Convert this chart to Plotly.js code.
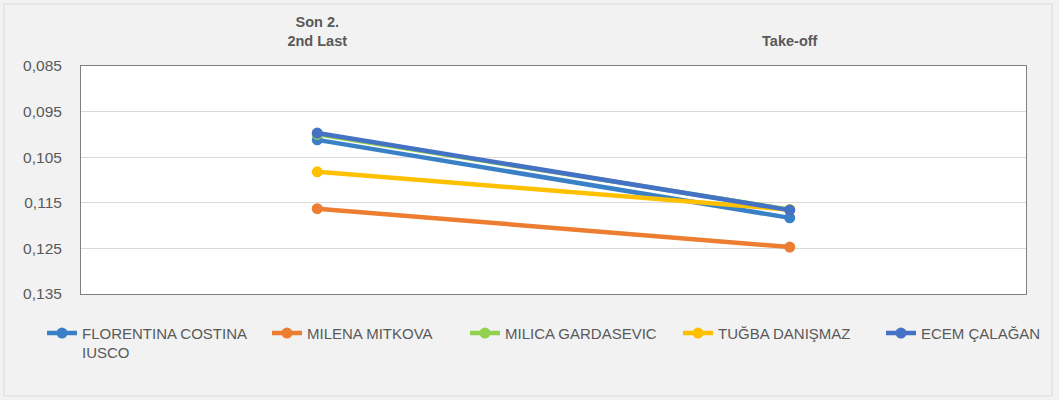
<!DOCTYPE html>
<html>
<head>
<meta charset="utf-8">
<script src="https://cdn.plot.ly/plotly-3.0.1.min.js"></script>
<style>html,body{margin:0;padding:0;background:#F2F2F2;}#chart{width:1059px;height:400px;}</style>
</head>
<body>
<div id="chart"></div>
<script>
const categories = ["Son 2.<br>2nd Last", "Take-off"];
const seriesNames = ["FLORENTINA COSTINA<br>IUSCO", "MILENA MITKOVA", "MILICA GARDASEVIC", "TUĞBA DANIŞMAZ", "ECEM ÇALAĞAN"];
const florentina = [0.1012, 0.1183];
const milena = [0.1163, 0.1247];
const milica = [0.1000, 0.1165];
const tugba = [0.1082, 0.1165];
const ecem = [0.0997, 0.1166];
const colors = ["#3A80C6", "#ED7D31", "#92D050", "#FFC000", "#4472C4"];

// legend entry left edges (px) for each series
const legendLeftPx = [42, 267, 465, 678, 881];

const allValues = [florentina, milena, milica, tugba, ecem];
const legendIds = ["legend", "legend2", "legend3", "legend4", "legend5"];
const traces = allValues.map((vals, i) => ({
  type: "scatter",
  mode: "lines+markers",
  name: seriesNames[i],
  legend: legendIds[i],
  x: categories,
  y: vals,
  line: {color: colors[i], width: 4.5},
  marker: {color: colors[i], size: 11}
}));

const marginL = 81, plotW = 1059 - 81 - 33;

const layout = {
  width: 1059, height: 400,
  paper_bgcolor: "#F2F2F2",
  plot_bgcolor: "#FFFFFF",
  separators: ",.",
  font: {family: "Liberation Sans, Arial, sans-serif", color: "#595959", size: 15},
  margin: {l: 81, r: 33, t: 66, b: 106},
  showlegend: true,
  xaxis: {
    type: "category", side: "top", range: [-0.5, 1.5],
    showgrid: false, zeroline: false,
    showline: true, mirror: true, linecolor: "#7F7F7F", linewidth: 1,
    ticks: "", tickfont: {size: 14.5, color: "#595959", weight: "bold"},
    ticklabelstandoff: 13
  },
  yaxis: {
    range: [0.135, 0.085], tick0: 0.085, dtick: 0.01, tickformat: ".3f",
    showgrid: true, gridcolor: "#D9D9D9", gridwidth: 1, zeroline: false,
    showline: true, mirror: true, linecolor: "#7F7F7F", linewidth: 1,
    ticks: "", tickfont: {size: 15.5, color: "#595959"},
    ticklabelstandoff: 15
  },
  shapes: [{
    type: "rect", xref: "paper", yref: "paper",
    x0: -0.0815, x1: 1.0275, y0: -0.447, y1: 1.272,
    line: {color: "#D9D9D9", width: 1}, fillcolor: "rgba(0,0,0,0)", layer: "below"
  }]
};

legendIds.forEach((id, i) => {
  layout[id] = {
    orientation: "h",
    x: (legendLeftPx[i] - marginL) / plotW, y: -0.1,
    xanchor: "left", yanchor: "top",
    bgcolor: "rgba(0,0,0,0)", valign: "top",
    font: {size: 15, color: "#595959"}
  };
});

Plotly.newPlot("chart", traces, layout, {displayModeBar: false, staticPlot: true});
</script>
</body>
</html>
